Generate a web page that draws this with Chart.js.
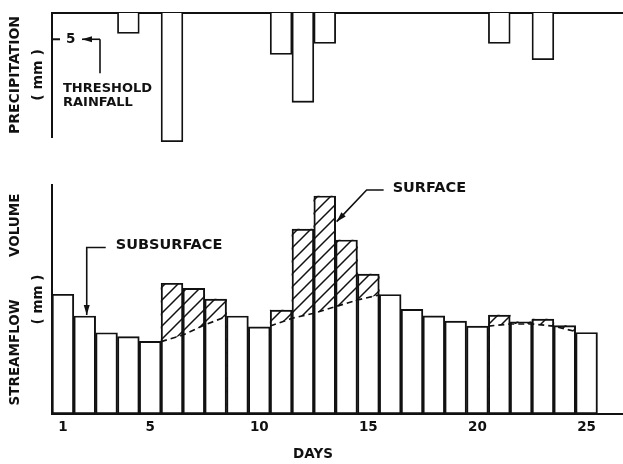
<!DOCTYPE html>
<html>
<head>
<meta charset="utf-8">
<script src="https://cdn.jsdelivr.net/npm/chart.js@4.4.1/dist/chart.umd.min.js"></script>
<style>
  html, body { margin: 0; padding: 0; background: #fff; }
  #wrap { position: relative; width: 623px; height: 464px; }
  #rainBox { position: absolute; left: 0; top: 0; width: 623px; height: 150px; }
  #flowBox { position: absolute; left: 0; top: 150px; width: 623px; height: 314px; }
</style>
</head>
<body>
<div id="wrap">
  <div id="rainBox"><canvas id="rainChart"></canvas></div>
  <div id="flowBox"><canvas id="flowChart"></canvas></div>
</div>
<script>
"use strict";

const INK = "#111";
const FONT = "DejaVu Sans";

// daily streamflow volume (mm), days 1..25
const days = [1, 2, 3, 4, 5, 6, 7, 8, 9, 10, 11, 12, 13, 14, 15, 16, 17, 18, 19, 20, 21, 22, 23, 24, 25];
const flowTotal = [5.23, 4.28, 3.55, 3.38, 3.17, 5.71, 5.49, 5.02, 4.28, 3.81, 4.54, 8.07, 9.52, 7.60, 6.11,
                   5.22, 4.57, 4.29, 4.06, 3.84, 4.32, 4.03, 4.14, 3.86, 3.56];

// days carrying a surface runoff component (hatched part of the bar)
const surfaceDays = [6, 7, 8, 11, 12, 13, 14, 15, 21, 22, 23, 24];

// subsurface (base) flow separation line, given at day boundaries; null breaks the line
const baseflowEdge = [5.5, 6.5, 7.5, 8.5, 9.5, 10.5, 11.5, 12.5, 13.5, 14.5, 15.5, 16.5, 20.5, 21.5, 22.5, 23.5, 24.5];
const baseflowMm = [3.16, 3.45, 3.89, 4.26, null, 3.84, 4.18, 4.40, 4.69, 4.98, 5.20, null, 3.84, 3.93, 3.93, 3.84, 3.60];

// daily precipitation (mm)
const rainDays = [4, 6, 11, 12, 13, 21, 23];
const rainMm = [3.9, 24.5, 7.9, 17.0, 5.8, 5.8, 8.9];
const thresholdMm = 5;

const dayTicks = [1, 5, 10, 15, 20, 25];

const DAY_MIN = 0.5, DAY_MAX = 26.67;

Chart.defaults.font.family = FONT;
Chart.defaults.font.weight = "bold";
Chart.defaults.color = INK;

function hatchPattern() {
    const s = 13;
    const c = document.createElement("canvas");
    c.width = s; c.height = s;
    const g = c.getContext("2d");
    g.strokeStyle = INK;
    g.lineWidth = 1.5;
    g.beginPath();
    g.moveTo(0, s); g.lineTo(s, 0);
    g.moveTo(-3, 3); g.lineTo(3, -3);
    g.moveTo(s - 3, s + 3); g.lineTo(s + 3, s - 3);
    g.stroke();
    return g.createPattern(c, "repeat");
}

// polyline ending in a filled arrow head at its last point
function arrow(ctx, pts) {
    ctx.beginPath();
    ctx.moveTo(pts[0][0], pts[0][1]);
    for (let i = 1; i < pts.length; i++) ctx.lineTo(pts[i][0], pts[i][1]);
    ctx.stroke();
    const [x1, y1] = pts[pts.length - 2];
    const [x2, y2] = pts[pts.length - 1];
    const a = Math.atan2(y2 - y1, x2 - x1);
    const len = 10, half = 3;
    ctx.beginPath();
    ctx.moveTo(x2, y2);
    ctx.lineTo(x2 - len * Math.cos(a) - half * Math.sin(a), y2 - len * Math.sin(a) + half * Math.cos(a));
    ctx.lineTo(x2 - len * Math.cos(a) + half * Math.sin(a), y2 - len * Math.sin(a) - half * Math.cos(a));
    ctx.closePath();
    ctx.fill();
}

// no label overhang padding, so the plot area stays where it is put
function fixBox(width, height) {
    return s => {
        if (width !== undefined) s.width = width;
        if (height !== undefined) s.height = height;
        s.paddingTop = 0; s.paddingBottom = 0;
        s.paddingLeft = 0; s.paddingRight = 0;
    };
}

const thresholdNote = {
    id: "thresholdNote",
    afterDraw(chart) {
        const ctx = chart.ctx;
        const y = chart.scales.y.getPixelForValue(thresholdMm);
        const left = chart.chartArea.left;
        ctx.save();
        ctx.strokeStyle = INK;
        ctx.fillStyle = INK;
        ctx.lineWidth = 2;
        ctx.beginPath();
        ctx.moveTo(left, y); ctx.lineTo(left + 8, y);
        ctx.stroke();
        ctx.lineWidth = 1.6;
        ctx.beginPath();
        ctx.moveTo(left + 48, y); ctx.lineTo(left + 48, y + 34);
        ctx.stroke();
        arrow(ctx, [[left + 48, y], [left + 30, y]]);
        ctx.font = "bold 13px " + FONT;
        ctx.textAlign = "left";
        ctx.textBaseline = "middle";
        ctx.fillText("THRESHOLD", left + 11, 89);
        ctx.fillText("RAINFALL", left + 11, 103);
        ctx.restore();
    }
};

const flowNotes = {
    id: "flowNotes",
    afterDraw(chart) {
        const ctx = chart.ctx;
        const xs = chart.scales.x, ys = chart.scales.y;
        ctx.save();
        ctx.strokeStyle = INK;
        ctx.fillStyle = INK;
        ctx.lineWidth = 1.6;

        const subX = xs.getPixelForValue(2) + 2;
        const subTop = ys.getPixelForValue(flowTotal[1]);
        arrow(ctx, [[subX + 19, 97.5], [subX, 97.5], [subX, subTop - 1]]);

        const surfX = xs.getPixelForValue(13.5);
        const surfY = ys.getPixelForValue(8.4);
        arrow(ctx, [[surfX + 48, 40], [surfX + 31, 40], [surfX + 1, surfY]]);

        ctx.font = "bold 14.5px " + FONT;
        ctx.textAlign = "left";
        ctx.textBaseline = "middle";
        ctx.fillText("SUBSURFACE", subX + 29, 95);
        ctx.fillText("SURFACE", surfX + 57, 38.5);

        ctx.font = "bold 13.5px " + FONT;
        ctx.textAlign = "center";
        ctx.fillText("DAYS", 313, 304);
        ctx.restore();
    }
};

new Chart(document.getElementById("rainChart"), {
    type: "bar",
    data: {
        datasets: [{
            data: rainDays.map((d, i) => ({ x: d, y: rainMm[i] })),
            backgroundColor: "#fff",
            borderColor: INK,
            borderWidth: 1.8,
            borderSkipped: "start",
            barPercentage: 1,
            categoryPercentage: 1,
            clip: false
        }]
    },
    options: {
        animation: false,
        responsive: true,
        maintainAspectRatio: false,
        layout: { padding: { top: 0, right: 0, bottom: 13, left: 0 } },
        plugins: { legend: { display: false }, tooltip: { enabled: false } },
        scales: {
            x: {
                type: "linear",
                position: "top",
                offset: false,
                min: DAY_MIN,
                max: DAY_MAX,
                ticks: { display: false },
                grid: { display: false, drawTicks: false },
                border: { color: INK, width: 2 },
                afterFit: fixBox(undefined, 13)
            },
            y: {
                reverse: true,
                min: 0,
                max: 23.6,
                afterBuildTicks: s => { s.ticks = [{ value: thresholdMm }]; },
                ticks: { mirror: true, padding: 14, font: { size: 13.5, weight: "bold" } },
                grid: { display: false, drawTicks: false },
                border: { color: INK, width: 2 },
                title: {
                    display: true,
                    text: ["PRECIPITATION", "( mm )"],
                    font: { size: 14, weight: "bold", lineHeight: 1.64 },
                    padding: { top: 4, bottom: 0 }
                },
                afterFit: fixBox(52, undefined)
            }
        }
    },
    plugins: [thresholdNote]
});

new Chart(document.getElementById("flowChart"), {
    type: "bar",
    data: {
        datasets: [
            {
                // daily totals, outlined
                type: "bar",
                data: days.map((d, i) => ({ x: d, y: flowTotal[i] })),
                backgroundColor: "rgba(0,0,0,0)",
                borderColor: INK,
                borderWidth: 1.3,
                borderSkipped: false,
                grouped: false,
                barPercentage: 1,
                categoryPercentage: 1,
                order: 1
            },
            {
                // separation line; blanks the hatch below it
                type: "line",
                data: baseflowEdge.map((d, i) => ({ x: d, y: baseflowMm[i] })),
                borderColor: INK,
                borderWidth: 1.7,
                borderDash: [6, 4],
                pointRadius: 0,
                tension: 0,
                spanGaps: false,
                fill: "origin",
                backgroundColor: "#fff",
                order: 2
            },
            {
                // surface runoff days, hatched
                type: "bar",
                data: surfaceDays.map(d => ({ x: d, y: flowTotal[days.indexOf(d)] })),
                backgroundColor: hatchPattern(),
                borderWidth: 0,
                grouped: false,
                barPercentage: 1,
                categoryPercentage: 1,
                order: 3
            }
        ]
    },
    options: {
        animation: false,
        responsive: true,
        maintainAspectRatio: false,
        layout: { padding: { top: 35, right: 0, bottom: 0, left: 0 } },
        plugins: { legend: { display: false }, tooltip: { enabled: false } },
        scales: {
            x: {
                type: "linear",
                offset: false,
                min: DAY_MIN,
                max: DAY_MAX,
                afterBuildTicks: s => { s.ticks = dayTicks.map(v => ({ value: v })); },
                ticks: { padding: 5, font: { size: 13.5, weight: "bold" } },
                grid: { display: false, drawTicks: false },
                border: { color: INK, width: 2, z: 1 },
                afterFit: fixBox(undefined, 50)
            },
            y: {
                min: 0,
                max: 10,
                ticks: { display: false },
                grid: { display: false, drawTicks: false },
                border: { color: INK, width: 2 },
                title: {
                    display: true,
                    text: ["STREAMFLOW         VOLUME", "( mm )"],
                    font: { size: 13.5, weight: "bold", lineHeight: 1.7 },
                    padding: { top: 4, bottom: 0 }
                },
                afterFit: fixBox(52, undefined)
            }
        }
    },
    plugins: [flowNotes]
});
</script>
</body>
</html>
